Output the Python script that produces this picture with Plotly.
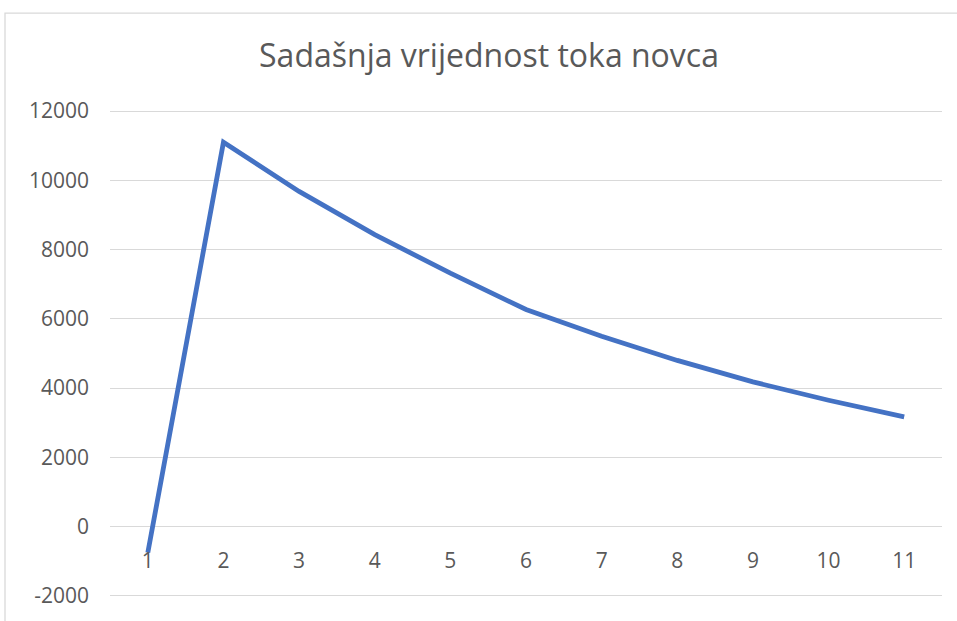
import plotly.graph_objects as go

categories = ["1", "2", "3", "4", "5", "6", "7", "8", "9", "10", "11"]
periods = [1, 2, 3, 4, 5, 6, 7, 8, 9, 10, 11]
values = [-750, 11100, 9680, 8430, 7320, 6270, 5500, 4800, 4180, 3650, 3170]
y_ticks = [-2000, 0, 2000, 4000, 6000, 8000, 10000, 12000]
y_tick_labels = ["-2000", "0", "2000", "4000", "6000", "8000", "10000", "12000"]
title_text = "Sadašnja vrijednost toka novca"

W, H = 957, 621
L, R, T, B = 110, 15, 110, 21
plot_w = W - L - R
plot_h = H - T - B

text_color = "#595959"
grid_color = "#D9D9D9"
font_family = "Open Sans, Liberation Sans, sans-serif"

fig = go.Figure()
fig.add_trace(go.Scatter(
    x=periods, y=values, mode="lines",
    line=dict(color="#4472C4", width=4.8),
    hoverinfo="x+y", showlegend=False,
))

pad_y = 30  # small padding so edge gridlines are drawn
ymin, ymax = y_ticks[0] - pad_y, y_ticks[-1] + pad_y

fig.update_layout(
    width=W, height=H,
    margin=dict(l=L, r=R, t=T, b=B, pad=0),
    paper_bgcolor="white", plot_bgcolor="white",
    title=dict(text=title_text, x=489 / W, xref="container", xanchor="center",
               y=1 - 56 / H, yref="container", yanchor="middle",
               font=dict(family=font_family, size=32, color=text_color)),
    xaxis=dict(range=[0.5, len(periods) + 0.5], tickvals=periods, ticktext=categories,
               showgrid=False, zeroline=False, showline=False, ticks="",
               anchor="free", position=(0 - ymin) / (ymax - ymin),
               ticklabelstandoff=19,
               tickfont=dict(family=font_family, size=21, color=text_color)),
    yaxis=dict(range=[ymin, ymax], tickvals=y_ticks, ticktext=y_tick_labels,
               showgrid=True, gridcolor=grid_color,
               gridwidth=1.3, zeroline=False, showline=False, ticks="",
               ticklabelstandoff=20,
               tickfont=dict(family=font_family, size=21, color=text_color)),
)

# chart-area border (top and left visible, the rest is cropped)
fig.add_shape(type="rect", xref="paper", yref="paper",
              x0=(5 - L) / plot_w, x1=(W + 20 - L) / plot_w,
              y0=-(B + 20) / plot_h, y1=(H - 12.5 - B) / plot_h,
              line=dict(color=grid_color, width=1.3), fillcolor="rgba(0,0,0,0)",
              layer="below")

fig.write_html("out.html", config={"displayModeBar": False},
               post_script="document.body.style.margin='0px';document.body.style.overflow='hidden';")
